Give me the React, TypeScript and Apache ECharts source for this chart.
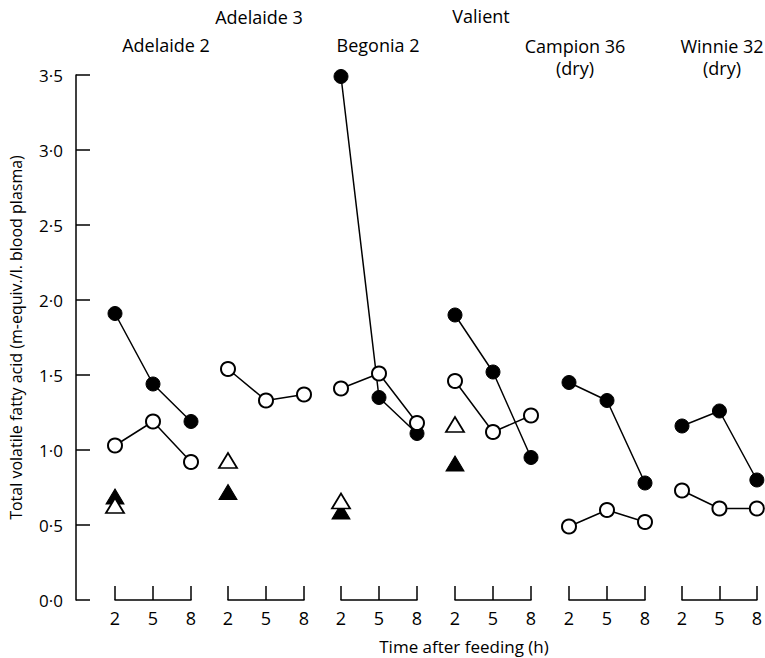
import React, { useEffect, useRef } from "react";
import * as echarts from "echarts";

const times = [2, 5, 8];
const panelNames = ["Adelaide 2", "Adelaide 3", "Begonia 2", "Valient", "Campion 36", "Winnie 32"];
const filledCircle: (number[] | null)[] = [
  [1.91, 1.44, 1.19],
  null,
  [3.49, 1.35, 1.11],
  [1.9, 1.52, 0.95],
  [1.45, 1.33, 0.78],
  [1.16, 1.26, 0.8],
];
const openCircle: (number[] | null)[] = [
  [1.03, 1.19, 0.92],
  [1.54, 1.33, 1.37],
  [1.41, 1.51, 1.18],
  [1.46, 1.12, 1.23],
  [0.49, 0.6, 0.52],
  [0.73, 0.61, 0.61],
];
const filledTriangle: (number | null)[] = [0.69, 0.72, 0.59, 0.91, null, null];
const openTriangle: (number | null)[] = [0.63, 0.93, 0.66, 1.17, null, null];
const yTicks = ["0·0", "0·5", "1·0", "1·5", "2·0", "2·5", "3·0", "3·5"];

const FONT = "'Open Sans', sans-serif";
const panelLeft = [115, 228, 341, 455, 569, 682];
const panelWidth = 76;

export default function App() {
  const ref = useRef<HTMLDivElement>(null);
  useEffect(() => {
    if (!ref.current) return;
    const chart = echarts.init(ref.current, null, { renderer: "svg" });
    const grids: any[] = [];
    const xAxes: any[] = [];
    const yAxes: any[] = [];
    const series: any[] = [];
    panelNames.forEach((_, i) => {
      grids.push({ left: panelLeft[i], width: panelWidth, top: 75, height: 525 });
      xAxes.push({
        type: "value",
        gridIndex: i,
        min: 2,
        max: 8,
        interval: 3,
        offset: 1,
        axisLine: { show: true, lineStyle: { color: "#000", width: 1.5 } },
        axisTick: { show: true, inside: true, length: 14, lineStyle: { color: "#000", width: 1.5 } },
        axisLabel: {
          color: "#000",
          fontSize: 18,
          fontFamily: FONT,
          fontWeight: 500,
          margin: 8,
          formatter: (v: number) => (times.includes(v) ? String(v) : ""),
        },
        splitLine: { show: false },
      });
      yAxes.push({
        type: "value",
        gridIndex: i,
        min: 0,
        max: 3.5,
        interval: 0.5,
        show: i === 0,
        offset: i === 0 ? 39 : 0,
        axisLine: { show: true, lineStyle: { color: "#000", width: 1.5 } },
        axisTick: { show: true, inside: true, length: 14, lineStyle: { color: "#000", width: 1.5 } },
        axisLabel: {
          color: "#000",
          fontSize: 17,
          fontFamily: FONT,
          fontWeight: 500,
          margin: 13,
          formatter: (v: number) => yTicks[Math.round(v * 2)] ?? "",
        },
        splitLine: { show: false },
        name: i === 0 ? "Total volatile fatty acid (m-equiv./l. blood plasma)" : "",
        nameLocation: "middle",
        nameRotate: 90,
        nameGap: 52,
        nameTextStyle: { color: "#000", fontSize: 16, fontFamily: FONT, fontWeight: 500 },
      });
      const fc = filledCircle[i];
      if (fc) {
        series.push({
          type: "line",
          xAxisIndex: i,
          yAxisIndex: i,
          data: times.map((t, k) => [t, fc[k]]),
          symbol: "circle",
          symbolSize: 14,
          showSymbol: true,
          lineStyle: { color: "#000", width: 1.5 },
          itemStyle: { color: "#000", borderColor: "#000", borderWidth: 1 },
          z: 2,
        });
      }
      const oc = openCircle[i];
      if (oc) {
        series.push({
          type: "line",
          xAxisIndex: i,
          yAxisIndex: i,
          data: times.map((t, k) => [t, oc[k]]),
          symbol: "circle",
          symbolSize: 14,
          showSymbol: true,
          lineStyle: { color: "#000", width: 1.5 },
          itemStyle: { color: "#fff", borderColor: "#000", borderWidth: 2 },
          z: 3,
        });
      }
      const ft = filledTriangle[i];
      if (ft != null) {
        series.push({
          type: "scatter",
          xAxisIndex: i,
          yAxisIndex: i,
          data: [[times[0], ft]],
          symbol: "triangle",
          symbolSize: [18, 15],
          itemStyle: { color: "#000", borderColor: "#000", borderWidth: 1, opacity: 1 },
          z: 4,
        });
      }
      const ot = openTriangle[i];
      if (ot != null) {
        series.push({
          type: "scatter",
          xAxisIndex: i,
          yAxisIndex: i,
          data: [[times[0], ot]],
          symbol: "triangle",
          symbolSize: [18, 15],
          itemStyle: { color: "#fff", borderColor: "#000", borderWidth: 1.8, opacity: 1 },
          z: 5,
        });
      }
    });

    const txt = (text: string, x: number, y: number, size = 18) => ({
      type: "text",
      x,
      y,
      style: {
        text,
        fill: "#000",
        font: `500 ${size}px ${FONT}`,
        lineHeight: 22,
        textAlign: "center",
        textVerticalAlign: "middle",
      },
    });

    chart.setOption({
      animation: false,
      backgroundColor: "#fff",
      grid: grids,
      xAxis: xAxes,
      yAxis: yAxes,
      series,
      graphic: [
        txt("Adelaide 3", 259, 17),
        txt("Adelaide 2", 166, 45),
        txt("Begonia 2", 378, 45),
        txt("Valient", 481, 16),
        txt("Campion 36\n(dry)", 575, 57),
        txt("Winnie 32\n(dry)", 722, 57),
        txt("Time after feeding (h)", 464, 646, 17),
      ],
    });
    return () => chart.dispose();
  }, []);
  return (
    <div
      ref={ref}
      style={{ position: "absolute", left: 0, top: 0, width: 765, height: 658, background: "#fff" }}
    />
  );
}
